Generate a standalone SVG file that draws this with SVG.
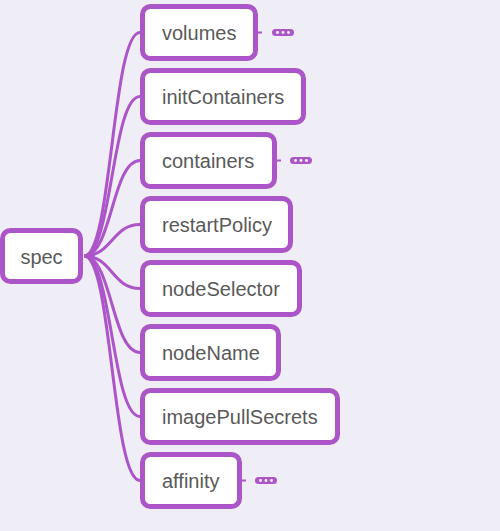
<svg xmlns="http://www.w3.org/2000/svg" width="500" height="531" viewBox="0 0 500 531">
<style>
.bg{fill:#efedf5}
.box{fill:#ffffff;stroke:#ac55c8;stroke-width:5}
.lbl{font-family:"Liberation Sans",Arial,sans-serif;font-size:20px;fill:#595959}
.edge{fill:none;stroke:#ac55c8;stroke-width:3}
.pill{fill:#ac55c8}
.dot{fill:#ffffff}
.tick{stroke:#ac55c8;stroke-width:2;fill:none}
</style>
<defs>
<g id="more">
<rect class="pill" x="0" y="-3.5" width="22" height="7" rx="3.5"/>
<circle class="dot" cx="5.5" cy="0" r="1.4"/>
<circle class="dot" cx="11" cy="0" r="1.4"/>
<circle class="dot" cx="16.5" cy="0" r="1.4"/>
</g>
</defs>
<rect class="bg" x="0" y="0" width="500" height="531"/>
<g id="connectors">
<path class="edge" d="M84,256 C112,256 112,32.5 140,32.5"/>
<path class="edge" d="M84,256 C112,256 112,96.5 140,96.5"/>
<path class="edge" d="M84,256 C112,256 112,160.5 140,160.5"/>
<path class="edge" d="M84,256 C112,256 112,224.5 140,224.5"/>
<path class="edge" d="M84,256 C112,256 112,288.5 140,288.5"/>
<path class="edge" d="M84,256 C112,256 112,352.5 140,352.5"/>
<path class="edge" d="M84,256 C112,256 112,416.5 140,416.5"/>
<path class="edge" d="M84,256 C112,256 112,480.5 140,480.5"/>
<path class="tick" d="M258,32.5 H262"/>
<path class="tick" d="M277,160.5 H281"/>
<path class="tick" d="M242,480.5 H246"/>
</g>
<g id="spec">
<rect class="box" x="2.5" y="230.5" width="78" height="51" rx="8"/>
<text class="lbl" x="41.5" y="263.5" text-anchor="middle">spec</text>
</g>
<g id="volumes">
<rect class="box" x="142.5" y="6.5" width="113" height="52" rx="8"/>
<text class="lbl" x="162" y="40">volumes</text>
<use href="#more" x="272" y="32.5"/>
</g>
<g id="initContainers">
<rect class="box" x="142.5" y="70.5" width="161" height="52" rx="8"/>
<text class="lbl" x="162" y="104">initContainers</text>
</g>
<g id="containers">
<rect class="box" x="142.5" y="134.5" width="132" height="52" rx="8"/>
<text class="lbl" x="162" y="168">containers</text>
<use href="#more" x="290" y="160.5"/>
</g>
<g id="restartPolicy">
<rect class="box" x="142.5" y="198.5" width="148" height="52" rx="8"/>
<text class="lbl" x="162" y="232">restartPolicy</text>
</g>
<g id="nodeSelector">
<rect class="box" x="142.5" y="262.5" width="157" height="52" rx="8"/>
<text class="lbl" x="162" y="296">nodeSelector</text>
</g>
<g id="nodeName">
<rect class="box" x="142.5" y="326.5" width="136" height="52" rx="8"/>
<text class="lbl" x="162" y="360">nodeName</text>
</g>
<g id="imagePullSecrets">
<rect class="box" x="142.5" y="390.5" width="195" height="52" rx="8"/>
<text class="lbl" x="162" y="424">imagePullSecrets</text>
</g>
<g id="affinity">
<rect class="box" x="142.5" y="454.5" width="97" height="52" rx="8"/>
<text class="lbl" x="162" y="488">affinity</text>
<use href="#more" x="255" y="480.5"/>
</g>
</svg>
